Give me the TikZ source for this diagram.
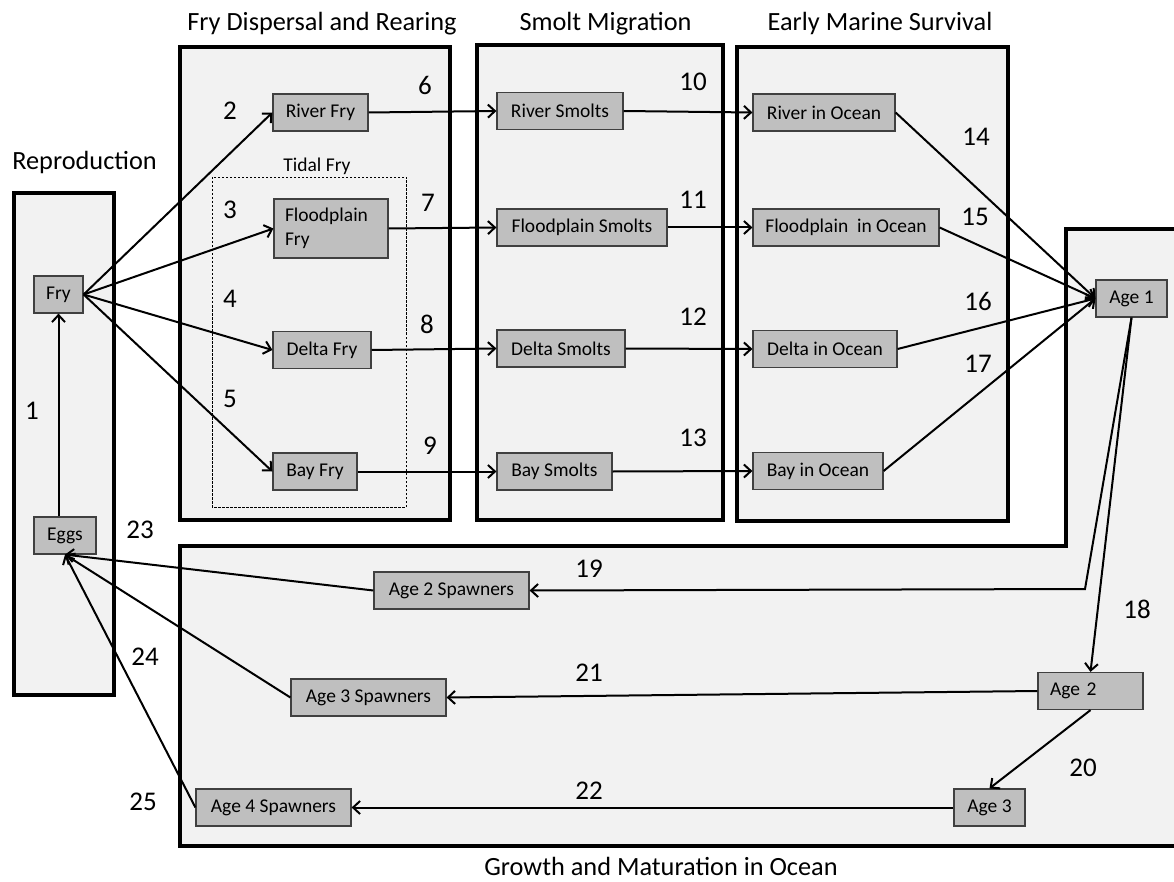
\documentclass[tikz,border=0pt]{standalone}
\usepackage{fontspec}
\setmainfont{Carlito}
\usetikzlibrary{positioning, arrows.meta}

\definecolor{panelgray}{HTML}{F2F2F2}
\definecolor{boxgray}{HTML}{BFBFBF}
\definecolor{edgegray}{HTML}{404040}

\tikzset{
  stage/.style={draw=edgegray, fill=boxgray, line width=1.2pt, minimum height=37pt,
    inner xsep=6pt, font=\fontsize{19.5}{24}\selectfont},
  panel/.style={draw=black, fill=panelgray, line width=3.8pt},
  flow/.style={line width=2pt, -{Straight Barb[length=7pt,width=13pt]}},
  rate/.style={font=\fontsize{27}{30}\selectfont},
  heading/.style={font=\fontsize{26.3}{30}\selectfont, anchor=base},
}

\begin{document}
\begin{tikzpicture}[x=1pt, y=-1pt]
\clip (0,0) rectangle (1174,882);

% draw panels
\draw[panel] (14,193) rectangle (114,695);
\draw[panel] (180,47) rectangle (450,520);
\draw[panel] (477,45) rectangle (723,520);
\draw[panel] (737,47) rectangle (1008,521);
\draw[panel] (1066,229) -- (1200,229) -- (1200,846) -- (180,846) -- (180,546) -- (1066,546) -- cycle;

% tidal fry region
\draw[line width=0.8pt, dash pattern=on 2.5pt off 1.5pt] (212,177) rectangle (406,507);
\node[font=\fontsize{19.5}{24}\selectfont, anchor=base] (tidal) at (317,172) {Tidal Fry};

% panel titles
\node[heading] (reprotitle) at (84.5,170) {Reproduction};
\node[heading] (frytitle) at (322,31) {Fry Dispersal and Rearing};
\node[heading] (smolttitle) at (605.5,31) {Smolt Migration};
\node[heading] (marinetitle) at (880,31) {Early Marine Survival};
\node[heading] (oceantitle) at (661,875) {Growth and Maturation in Ocean};

% life stages
\foreach \nm/\x/\y/\w/\txt in
{fry/58.5/294.5/49/Fry, eggs/65/535.5/62/Eggs,
 riverfry/320.5/112.5/95/River Fry, deltafry/322/350/98/Delta Fry, bayfry/315/471.5/84/Bay Fry,
 riversmolt/560/111/126/River Smolts, floodsmolt/582/227.5/170/Floodplain Smolts,
 deltasmolt/561/348.5/128/Delta Smolts, baysmolt/554.5/471.5/115/Bay Smolts,
 riverocean/824/112.5/142/River in Ocean, deltaocean/825/349/144/Delta in Ocean,
 bayocean/818/471/130/Bay in Ocean,
 age1/1131.5/298.5/71/Age 1, age3/989.5/807.5/71/Age 3,
 spawn2/451.5/590.5/155/Age 2 Spawners, spawn3/368.5/697.5/155/Age 3 Spawners,
 spawn4/273.5/807.5/155/Age 4 Spawners}
\node[stage, minimum width=\w pt] (\nm) at (\x,\y) {\txt};

\node[stage, text width=92pt, inner xsep=11pt, align=left, minimum height=59pt] (floodfry) at (331,228.5) {Floodplain\\Fry};
\node[stage, minimum width=186pt] (floodocean) at (846,227.5) {Floodplain\ \ in Ocean};
\node[stage, text width=81pt, inner xsep=12pt, align=left] (age2) at (1090.5,691) {Age 2};

% transitions
\draw[flow] (eggs.north -| fry.south) -- (fry.south);
\foreach \dst in {riverfry,floodfry,deltafry,bayfry}
\draw[flow] (fry.east) -- (\dst.west);
\foreach \a/\b in {riverfry/riversmolt, floodfry/floodsmolt, deltafry/deltasmolt, bayfry/baysmolt,
  riversmolt/riverocean, floodsmolt/floodocean, deltasmolt/deltaocean, baysmolt/bayocean}
\draw[flow] (\a.east) -- (\b.west);
\foreach \src in {riverocean,floodocean,deltaocean,bayocean}
\draw[flow] (\src.east) -- (age1.west);

\coordinate (bend19) at (1085,589);
\draw[flow] (age1.south) -- (bend19) -- (spawn2.east);
\draw[flow] (age1.south) -- (age2.north);
\draw[flow] (age2.west) -- (spawn3.east);
\draw[flow] (age2.south) -- (age3.north);
\draw[flow] (age3.west) -- (spawn4.east);
\foreach \src in {spawn2,spawn3,spawn4}
\draw[flow] (\src.west) -- (eggs.south);

% transition numbers
\foreach \x/\y/\descr in
{32/411/1, 230/111/2, 230/210/3, 230/299/4, 230/399/5,
 425/85/6, 428/203/7, 427/324/8, 430/446/9,
 693/82/10, 693/200/11, 693/317/12, 693/438/13,
 976/137/14, 975/217/15, 978/301/16, 978/364/17,
 1137/609/18, 589/569/19, 1083/768/20, 589/673/21, 589/791/22,
 140/530/23, 145/657/24, 143/802/25}
\node[rate] (n\descr) at (\x,\y) {\descr};
\end{tikzpicture}
\end{document}
